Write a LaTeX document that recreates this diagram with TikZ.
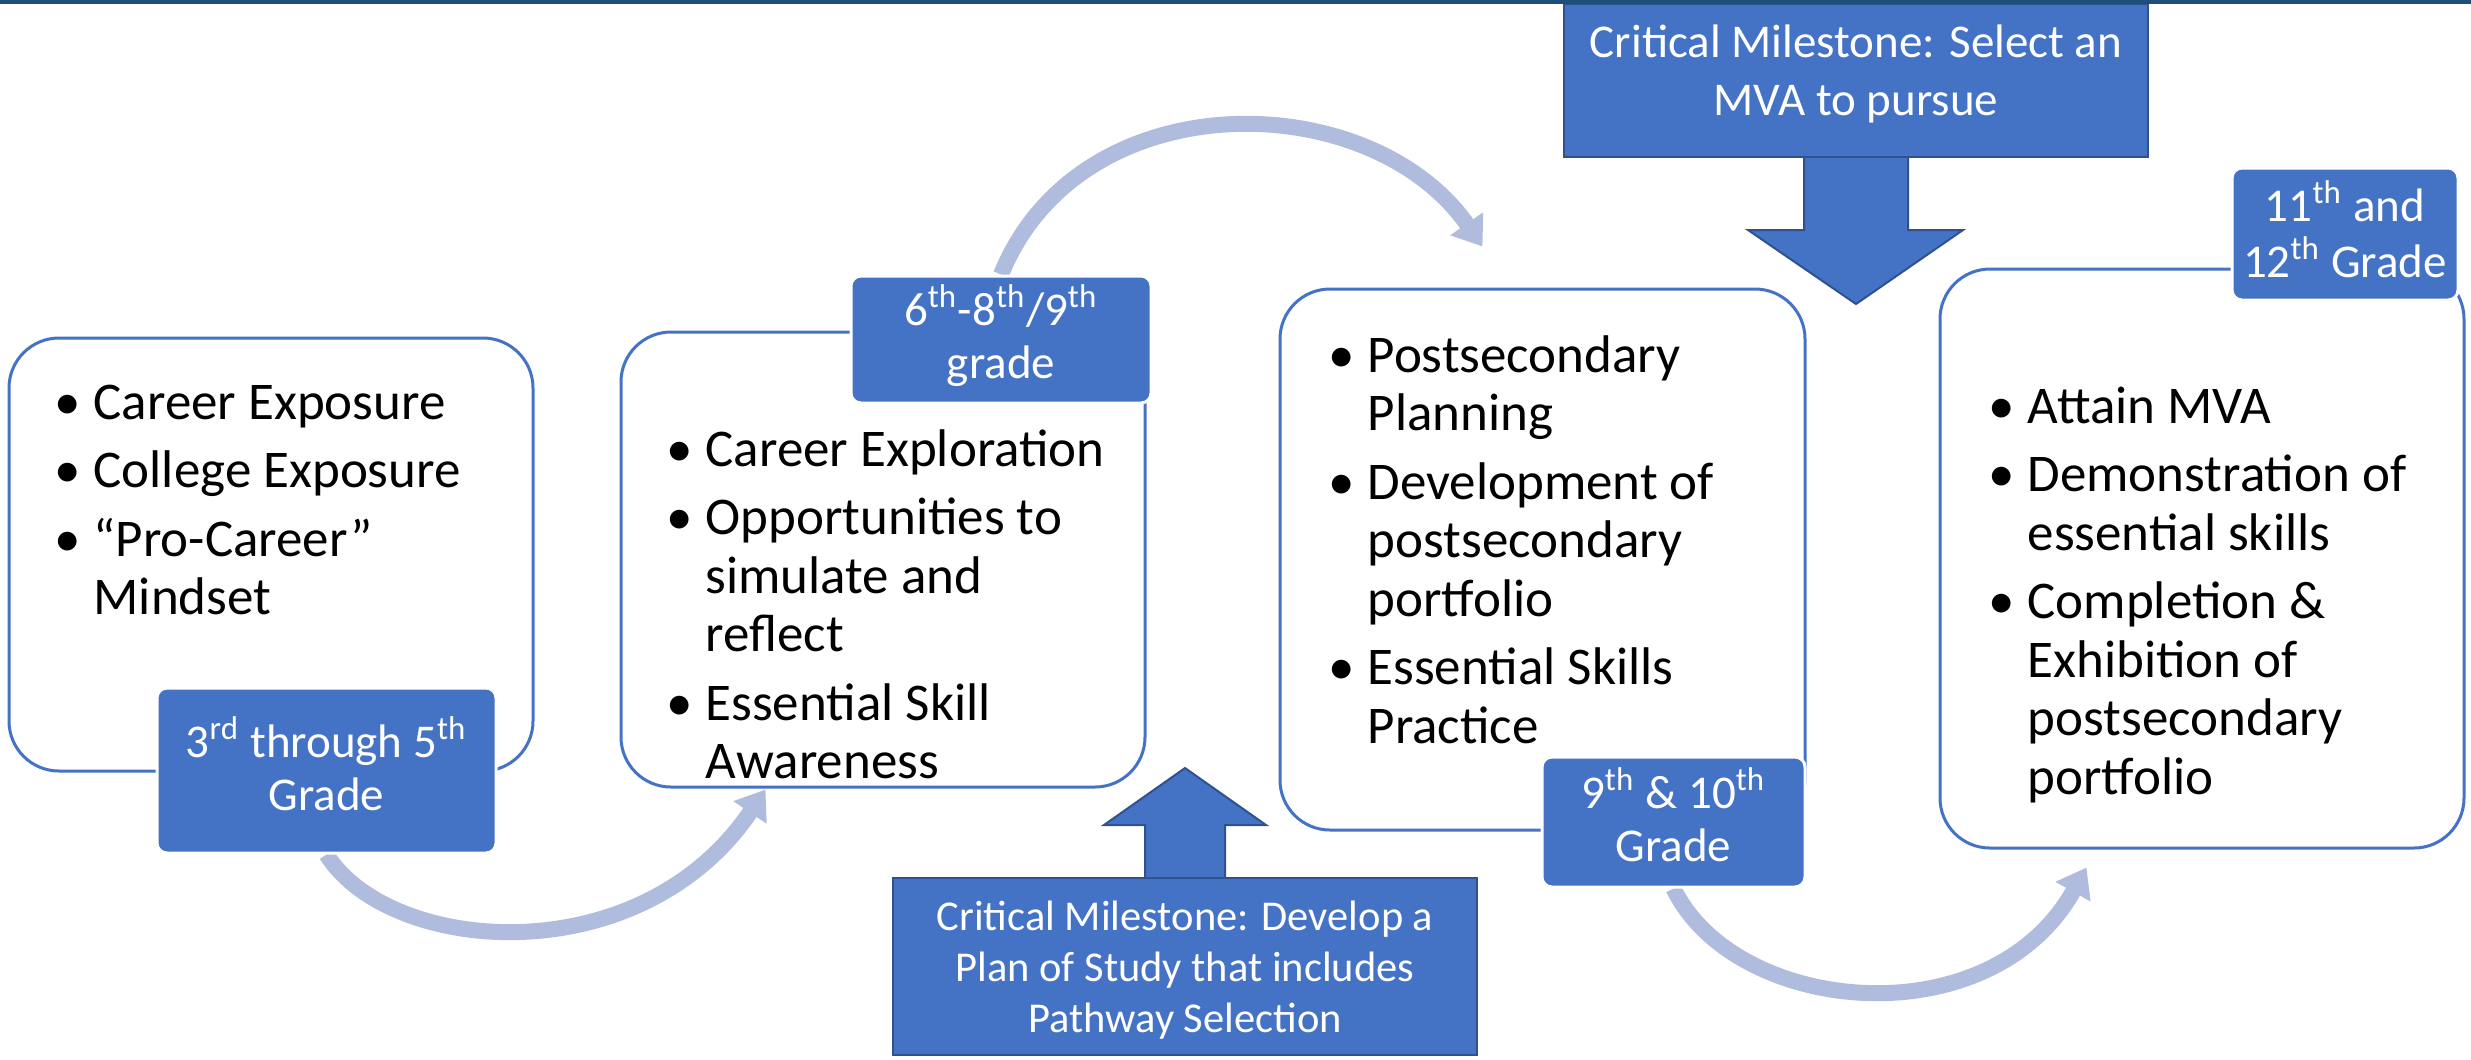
\documentclass[tikz,border=0pt]{standalone}
\usepackage{fontspec}
\setmainfont{Carlito}
\usetikzlibrary{calc,arrows.meta,fit}
\pgfdeclarelayer{front}
\pgfsetlayers{main,front}
\definecolor{boxblue}{RGB}{68,114,196}
\definecolor{darkblue}{RGB}{47,82,143}
\definecolor{arcblue}{RGB}{176,188,222}
\definecolor{topbar}{RGB}{31,78,121}
\newlength\bind \setlength\bind{11.7pt}
\newcommand\bli[1]{\makebox[\bind][l]{\textbullet}#1}
\newcommand\cli[1]{\hspace*{\bind}#1}
\newcommand\sth{\textsuperscript{th}}
\begin{document}
\begin{tikzpicture}[x=0.3pt,y=-0.3pt,
  stage/.style={draw=boxblue, line width=0.9pt, fill=white, rounded corners=15pt, inner sep=0pt},
  tag/.style={draw=white, line width=0.9pt, fill=boxblue, rounded corners=3pt, inner sep=0pt},
  mile/.style={draw=darkblue, line width=0.6pt, fill=boxblue, inner sep=0pt},
  bultext/.style={anchor=base west, inner sep=0pt, font=\fontsize{15.9}{17.55}\selectfont},
  tagtext/.style={anchor=base, inner sep=0pt, text=white, font=\fontsize{14.1}{15.9}\selectfont},
  miletext/.style={anchor=base, inner sep=0pt, text=white},
  flow/.style={draw=arcblue, line width=4.8pt, -{Triangle[length=8.3pt,width=11.5pt]}},
  blockarrow/.style={draw=darkblue, line width=0.6pt, fill=boxblue, line join=miter}
]
\useasboundingbox (0,0) rectangle (2471,1059);
\fill[white] (0,0) rectangle (2471,1059);

% stage boxes
\node[stage, fit={(9,338)(533,771)}] (b1) {};
\node[stage, fit={(621,332)(1145,787)}] (b2) {};
\node[stage, fit={(1280,289)(1805,830)}] (b3) {};
\node[stage, fit={(1940,269)(2464,848)}] (b4) {};

% bullet texts
\node[bultext] (t1) at (54,419) {\begin{tabular}[t]{@{}l@{}}\bli{Career Exposure}\\[3pt]
  \bli{College Exposure}\\[3pt] \bli{“Pro-Career”}\\ \cli{Mindset}\end{tabular}};
\node[bultext] (t2) at (666,466) {\begin{tabular}[t]{@{}l@{}}\bli{Career Exploration}\\[3pt]
  \bli{Opportunities to}\\ \cli{simulate and}\\ \cli{reflect}\\[3pt]
  \bli{Essential Skill}\\ \cli{Awareness}\end{tabular}};
\node[bultext] (t3) at (1328,372) {\begin{tabular}[t]{@{}l@{}}\bli{Postsecondary}\\ \cli{Planning}\\[3pt]
  \bli{Development of}\\ \cli{postsecondary}\\ \cli{portfolio}\\[3pt]
  \bli{Essential Skills}\\ \cli{Practice}\end{tabular}};
\node[bultext] (t4) at (1988,423) {\begin{tabular}[t]{@{}l@{}}\bli{Attain MVA}\\[3pt]
  \bli{Demonstration of}\\ \cli{essential skills}\\[3pt]
  \bli{Completion \&}\\ \cli{Exhibition of}\\ \cli{postsecondary}\\ \cli{portfolio}\end{tabular}};

% milestones
\node[mile, fit={(1564,4)(2148,157)}] (m1) {};
\node[miletext, font=\fontsize{14.1}{17.4}\selectfont] (mt1) at (1856,57)
  {\begin{tabular}[t]{@{}c@{}}Critical Milestone: Select an\\ MVA to pursue\end{tabular}};
\draw[blockarrow] ($(m1.south)+(-52,0)$) -- ++(0,72) -- ++(-56,0) -- ($(m1.south)+(0,146)$)
  -- ($(m1.south)+(107,72)$) -- ++(-55,0) -- ++(0,-72);

\node[mile, fit={(893,878)(1477,1055)}] (m2) {};
\node[miletext, font=\fontsize{12.75}{15.3}\selectfont] (mt2) at (1185,930)
  {\begin{tabular}[t]{@{}c@{}}Critical Milestone: Develop a\\ Plan of Study that includes\\ Pathway Selection\end{tabular}};
\draw[blockarrow] ($(m2.north)+(-40,0)$) -- ++(0,-52) -- ++(-41,0) -- ($(m2.north)+(0,-109)$)
  -- ($(m2.north)+(81,-52)$) -- ++(-41,0) -- ++(0,52);

% grade tags (front layer)
\begin{pgfonlayer}{front}
\node[tag, fit={(157,688)(496,853)}] (l1) {};
\node[tagtext] (lt1) at (326.5,757) {\begin{tabular}[t]{@{}c@{}}3\textsuperscript{rd} through 5\sth\\ Grade\end{tabular}};
\node[tag, fit={(851,276)(1151,403)}] (l2) {};
\node[tagtext] (lt2) at (1001,325) {\begin{tabular}[t]{@{}c@{}}6\sth-8\sth/9\sth\\ grade\end{tabular}};
\node[tag, fit={(1542,757)(1805,887)}] (l3) {};
\node[tagtext] (lt3) at (1673.5,808) {\begin{tabular}[t]{@{}c@{}}9\sth\ \& 10\sth\\ Grade\end{tabular}};
\node[tag, fit={(2232,168)(2458,300)}] (l4) {};
\node[tagtext] (lt4) at (2345,221) {\begin{tabular}[t]{@{}c@{}}11\sth\ and\\ 12\sth\ Grade\end{tabular}};
\fill[topbar] (0,0) rectangle (2471,4);
\end{pgfonlayer}

% flow arcs
\coordinate (a1e) at ($(b2.south west)+(146,1)$);
\coordinate (a2e) at ($(b3.north west)+(204,-41)$);
\coordinate (a3e) at ($(b4.south west)+(148,18)$);
\draw[flow] (l1.south) .. controls (390,955) and (640,975) .. (a1e);
\draw[flow] (l2.north) .. controls (1080,80) and (1370,85) .. (a2e);
\draw[flow] (l3.south) .. controls (1735,1015) and (1990,1040) .. (a3e);
\end{tikzpicture}
\end{document}
